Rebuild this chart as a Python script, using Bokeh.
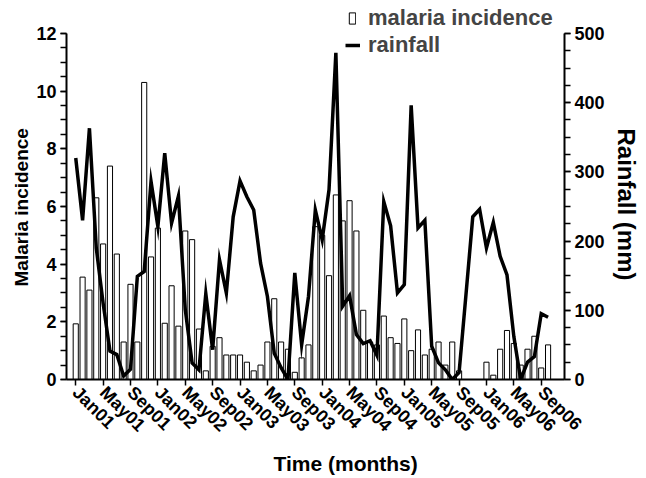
from math import pi
from bokeh.plotting import figure
from bokeh.models import (Range1d, LinearAxis, FixedTicker, Legend, LegendItem,
                          ColumnDataSource, Title)
from bokeh.embed import file_html
from bokeh.resources import INLINE

# month index (0 = Jan 2001)
month = list(range(70))

malaria = [1.93, 3.55, 3.1, 6.3, 4.7, 7.4, 4.35, 1.3, 3.3, 1.3, 10.3, 4.25,
           5.25, 1.95, 3.25, 1.85, 5.15, 4.85, 1.75, 0.3, 1.15, 1.45, 0.85, 0.85,
           0.85, 0.6, 0.3, 0.5, 1.3, 2.8, 1.3, 1.05, 0.25, 0.75, 1.2, 5.3,
           5.0, 3.6, 6.4, 5.5, 6.2, 5.15, 2.4, 1.3, 1.2, 2.2, 1.45, 1.25,
           2.1, 1.0, 1.72, 0.85, 1.05, 1.3, 0.5, 1.3, 0.3, 0, 0, 0,
           0.6, 0.15, 1.05, 1.7, 1.25, 0.5, 1.05, 1.5, 0.4, 1.2]

rainfall = [320, 230, 363, 190, 110, 41, 36, 5, 15, 149, 156, 286,
            221, 327, 226, 265, 101, 24, 14, 124, 43, 173, 125, 235,
            287, 264, 245, 168, 120, 38, 17, 0, 154, 50, 120, 245,
            202, 274, 472, 106, 121, 65, 52, 56, 35, 257, 222, 125,
            137, 396, 219, 230, 48, 24, 14, 0, 10, 122, 235, 246,
            190, 227, 178, 151, 62, 0, 25, 33, 95, 90]

tick_months = [0, 4, 8, 12, 16, 20, 24, 28, 32, 36, 40, 44, 48, 52, 56, 60, 64, 68]
tick_labels = ["Jan01", "May01", "Sep01", "Jan02", "May02", "Sep02", "Jan03", "May03",
               "Sep03", "Jan04", "May04", "Sep04", "Jan05", "May05", "Sep05", "Jan06",
               "May06", "Sep06"]

left_ticks = [0, 2, 4, 6, 8, 10, 12]
right_ticks = [0, 100, 200, 300, 400, 500]
left_max = 12
right_max = 500

FONT = "Liberation Sans"

# frame extends above the axes so the legend (which sits above the axes) is not clipped
AXIS_PX = 347
EXTRA_PX = 31
scale = (AXIS_PX + EXTRA_PX) / AXIS_PX

src = ColumnDataSource(dict(month=month, malaria=malaria, rain=rainfall))

p = figure(width=646, height=478,
           x_range=Range1d(-1.35, 71.4), y_range=Range1d(0, left_max * scale),
           output_backend="svg", toolbar_location=None,
           min_border_left=66, min_border_right=81, min_border_top=2,
           min_border_bottom=98)
p.extra_y_ranges = {"rain": Range1d(0, right_max * scale)}
p.outline_line_color = None
p.xgrid.visible = False
p.ygrid.visible = False
p.background_fill_color = "white"
p.border_fill_color = "white"

bars = p.vbar(x="month", top="malaria", width=0.75, bottom=0, source=src,
              fill_color="white", line_color="black", line_width=1)
line = p.line(x="month", y="rain", source=src, y_range_name="rain",
              line_color="black", line_width=3.5, line_join="miter")

def style_axis(ax):
    ax.axis_line_width = 2
    ax.axis_line_color = "black"
    ax.major_tick_line_width = 1.5
    ax.minor_tick_line_width = 1.5
    ax.major_tick_in = 0
    ax.major_tick_out = 6
    ax.minor_tick_in = 0
    ax.minor_tick_out = 6
    ax.major_label_text_font = FONT
    ax.major_label_text_font_style = "bold"
    ax.major_label_text_font_size = "18px"
    ax.major_label_text_color = "black"
    ax.major_label_standoff = 4

def axis_title(text, size, standoff, offset):
    return Title(text=text, align="left", offset=offset, standoff=standoff,
                 text_font=FONT, text_font_style="bold", text_font_size=size,
                 text_color="black")

# x axis
xa = p.xaxis[0]
style_axis(xa)
xa.ticker = FixedTicker(ticks=tick_months)
xa.major_label_overrides = {m: l for m, l in zip(tick_months, tick_labels)}
xa.major_label_orientation = -pi / 4
xa.minor_tick_out = 0

# left axis
ya = p.yaxis[0]
style_axis(ya)
ya.bounds = (0, left_max)
ya.ticker = FixedTicker(ticks=left_ticks, minor_ticks=[v * 0.5 for v in range(25)])

# right axis
ra = LinearAxis(y_range_name="rain")
style_axis(ra)
ra.bounds = (0, right_max)
ra.ticker = FixedTicker(ticks=right_ticks, minor_ticks=[v * 25 for v in range(21)])
p.add_layout(ra, "right")

# axis titles
p.add_layout(axis_title("Time (months)", "21px", 8, 207), "below")
p.add_layout(axis_title("Malaria incidence", "19px", 4, 93), "left")
p.add_layout(axis_title("Rainfall (mm)", "24px", 10, 126), "right")

common = dict(orientation="vertical", label_text_font=FONT,
              label_text_font_style="bold", label_text_font_size="22px",
              label_height=24, spacing=0, padding=0, margin=0,
              border_line_color=None, background_fill_alpha=0)

legend1 = Legend(items=[LegendItem(label="malaria incidence", renderers=[bars])],
                 location=(282, 348), glyph_width=8, glyph_height=14,
                 label_standoff=12, **common)
legend2 = Legend(items=[LegendItem(label="rainfall", renderers=[line])],
                 location=(279, 321), glyph_width=15, glyph_height=24,
                 label_standoff=8, **common)
p.add_layout(legend1, "center")
p.add_layout(legend2, "center")

open("out.html", "w").write(file_html(p, INLINE))
